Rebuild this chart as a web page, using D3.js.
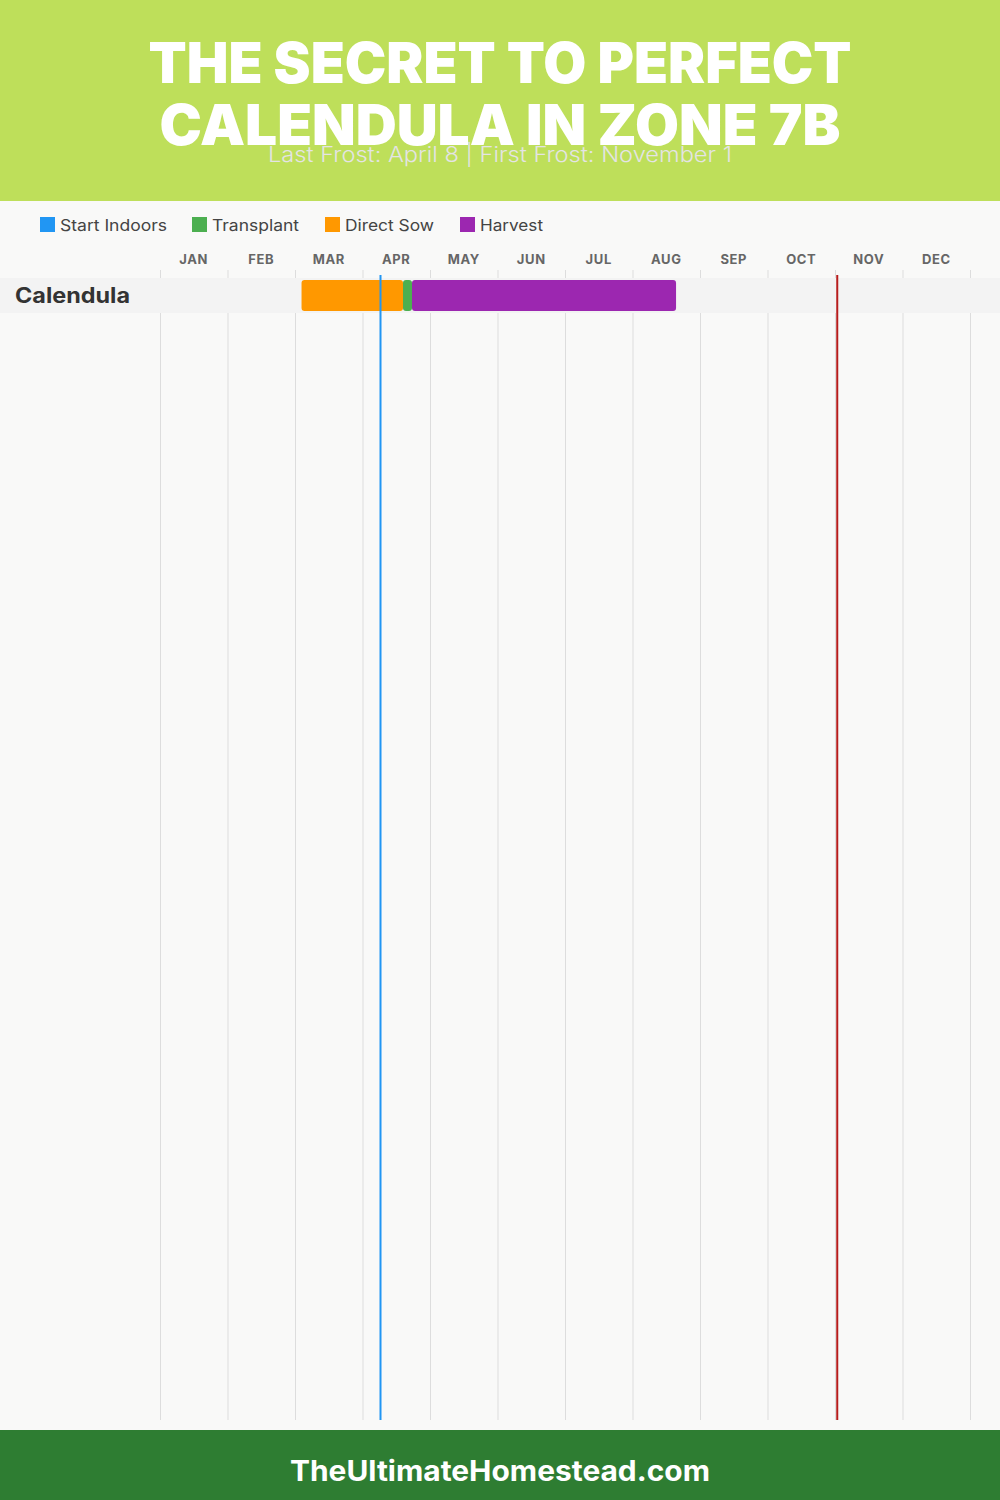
<!DOCTYPE html>
<html>
<head>
<meta charset="utf-8">
<script src="https://cdn.jsdelivr.net/npm/d3@7"></script>
<style>
  html, body { margin: 0; padding: 0; background: #f9f9f8; }
  svg { display: block; }
</style>
</head>
<body>
<svg id="chart" width="1000" height="1500"></svg>
<script>
// ---- Data ----
const titleLines = ["THE SECRET TO PERFECT", "CALENDULA IN ZONE 7B"];
const subtitle = "Last Frost: April 8 | First Frost: November 1";
const footerText = "TheUltimateHomestead.com";
const months = ["JAN","FEB","MAR","APR","MAY","JUN","JUL","AUG","SEP","OCT","NOV","DEC"];
const monthDays = [31,28,31,30,31,30,31,31,30,31,30,31];
const legendLabels = ["Start Indoors","Transplant","Direct Sow","Harvest"];
const legendColors = ["#2196f3","#4caf50","#ff9800","#9c27b0"];
const crops = ["Calendula"];
const phaseCrop = ["Calendula","Calendula","Calendula"];
const phaseNames = ["Direct Sow","Transplant","Harvest"];
const phaseStart = [[3,3],[4,18],[4,22]];   // [month, day]
const phaseEnd = [[4,18],[4,22],[8,20]];
const lastFrost = [4,8];
const firstFrost = [11,1];

// ---- Layout ----
const W = 1000, H = 1500;
const svg = d3.select("#chart");
const font = "Inter, 'Open Sans', 'DejaVu Sans', sans-serif";

const x = d3.scaleLinear().domain([0, 12]).range([160, 970]);
const monthPos = md => (md[0] - 1) + md[1] / monthDays[md[0] - 1];
const color = d3.scaleOrdinal().domain(legendLabels).range(legendColors);
const y = d3.scaleBand().domain(crops).range([278, 313]);

svg.append("rect").attr("width", W).attr("height", H).attr("fill", "#f9f9f8");

// Header
svg.append("rect").attr("x", 0).attr("y", 0).attr("width", W).attr("height", 201).attr("fill", "#bedf5a");
const titleWidths = [703, 681];
const titleY = [83, 145];
titleLines.forEach((t, i) => {
  svg.append("text")
    .attr("x", 500).attr("y", titleY[i])
    .attr("text-anchor", "middle")
    .attr("font-family", font).attr("font-weight", 900).attr("font-size", 56)
    .attr("fill", "#ffffff")
    .attr("textLength", titleWidths[i]).attr("lengthAdjust", "spacingAndGlyphs")
    .text(t);
});
svg.append("text")
  .attr("x", 500).attr("y", 162)
  .attr("text-anchor", "middle")
  .attr("font-family", font).attr("font-weight", 300).attr("font-size", 21)
  .attr("fill", "#e4e4e4")
  .attr("textLength", 464).attr("lengthAdjust", "spacingAndGlyphs")
  .text(subtitle);

// Legend
const legendX = [40, 192, 325, 460];
const legendTextW = [107, 87, 89, 63];
const legend = svg.append("g");
legendLabels.forEach((l, i) => {
  legend.append("rect").attr("x", legendX[i]).attr("y", 217).attr("width", 15).attr("height", 15).attr("fill", color(l));
  legend.append("text").attr("x", legendX[i] + 20).attr("y", 231)
    .attr("font-family", font).attr("font-size", 16).attr("fill", "#444")
    .attr("textLength", legendTextW[i]).attr("lengthAdjust", "spacingAndGlyphs")
    .text(l);
});

// Month labels
svg.append("g").selectAll("text").data(months).join("text")
  .attr("x", (d, i) => x(i + 0.5)).attr("y", 264)
  .attr("text-anchor", "middle")
  .attr("font-family", font).attr("font-weight", 700).attr("font-size", 13)
  .attr("letter-spacing", 0.6)
  .attr("fill", "#666")
  .text(d => d);

// Gridlines
svg.append("g").selectAll("line").data(d3.range(0, 13)).join("line")
  .attr("x1", d => x(d) + 0.5).attr("x2", d => x(d) + 0.5)
  .attr("y1", 270).attr("y2", 1420)
  .attr("stroke", "#dddddd").attr("stroke-width", 1);

// Row backgrounds
svg.append("g").selectAll("rect").data(crops).join("rect")
  .attr("x", 0).attr("width", W)
  .attr("y", d => y(d)).attr("height", y.bandwidth())
  .attr("fill", "#f3f3f3");

svg.append("g").selectAll("text").data(crops).join("text")
  .attr("x", 15).attr("y", d => y(d) + y.bandwidth() / 2 + 7)
  .attr("font-family", font).attr("font-weight", 700).attr("font-size", 21)
  .attr("fill", "#333")
  .attr("textLength", 115).attr("lengthAdjust", "spacingAndGlyphs")
  .text(d => d);

// Bars
const phases = phaseNames.map((n, i) => ({ crop: phaseCrop[i], name: n, s: phaseStart[i], e: phaseEnd[i] }));
svg.append("g").selectAll("rect").data(phases).join("rect")
  .attr("x", d => x(monthPos(d.s)))
  .attr("width", d => x(monthPos(d.e)) - x(monthPos(d.s)))
  .attr("y", d => y(d.crop) + 2).attr("height", y.bandwidth() - 4)
  .attr("rx", 3).attr("ry", 3)
  .attr("fill", d => color(d.name));

// Frost lines
svg.append("line")
  .attr("x1", x(monthPos(lastFrost))).attr("x2", x(monthPos(lastFrost)))
  .attr("y1", 275).attr("y2", 1420)
  .attr("stroke", "#2196f3").attr("stroke-width", 2);
svg.append("line")
  .attr("x1", x(monthPos(firstFrost))).attr("x2", x(monthPos(firstFrost)))
  .attr("y1", 275).attr("y2", 1420)
  .attr("stroke", "#b71c1c").attr("stroke-width", 2);

// Footer
svg.append("rect").attr("x", 0).attr("y", 1430).attr("width", W).attr("height", 70).attr("fill", "#2e7d32");
svg.append("text")
  .attr("x", 500).attr("y", 1481)
  .attr("text-anchor", "middle")
  .attr("font-family", font).attr("font-weight", 700).attr("font-size", 28)
  .attr("fill", "#ffffff")
  .attr("textLength", 420).attr("lengthAdjust", "spacingAndGlyphs")
  .text(footerText);
</script>
</body>
</html>
